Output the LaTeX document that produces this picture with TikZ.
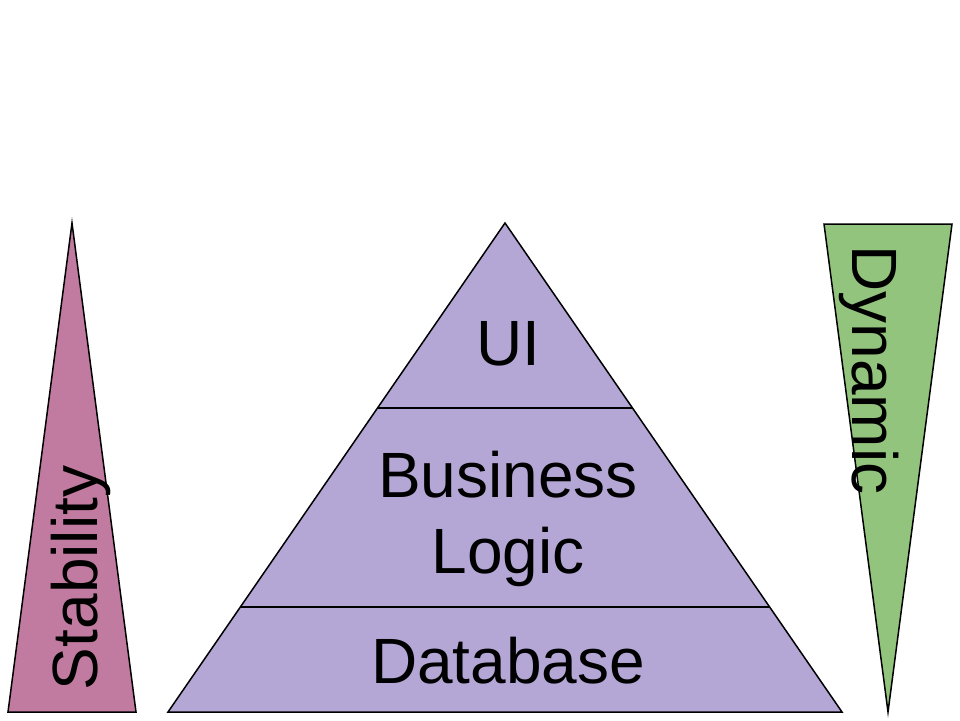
\documentclass[tikz,border=0pt]{standalone}
\usepackage{fontspec}
\setmainfont{Liberation Sans}
\usetikzlibrary{calc}
\definecolor{pinkfill}{HTML}{C27BA0}
\definecolor{purplefill}{HTML}{B4A7D6}
\definecolor{greenfill}{HTML}{93C47D}
\tikzset{
  shapeline/.style={draw=black, line width=1.5pt, line join=miter},
  bigtext/.style={inner sep=0pt, font=\fontsize{64}{76}\selectfont, align=center},
}
\begin{document}
\begin{tikzpicture}[x=1pt,y=-1pt]
\useasboundingbox (0,0) rectangle (960,720);
% coordinates
\coordinate (sA) at (72,223);
\coordinate (sL) at (8,712);
\coordinate (sR) at (136,712);
\coordinate (pA) at (505,223);
\coordinate (pL) at (168,712);
\coordinate (pR) at (842,712);
\coordinate (dL) at (824,224);
\coordinate (dR) at (952,224);
\coordinate (dB) at (888,712);
\coordinate (l1a) at ($(pA)!0.378!(pL)$);
\coordinate (l1b) at ($(pA)!0.378!(pR)$);
\coordinate (l2a) at ($(pA)!0.785!(pL)$);
\coordinate (l2b) at ($(pA)!0.785!(pR)$);
% shapes
\fill[pinkfill] (sA) -- (sR) -- (sL) -- cycle;
\draw[shapeline] (sA) -- (sR) -- (sL) -- cycle;
\fill[purplefill] (pA) -- (pR) -- (pL) -- cycle;
\draw[shapeline] (pA) -- (pR) -- (pL) -- cycle;
\draw[shapeline] (l1a) -- (l1b);
\draw[shapeline] (l2a) -- (l2b);
\fill[greenfill] (dL) -- (dR) -- (dB) -- cycle;
\draw[shapeline] (dL) -- (dR) -- (dB) -- cycle;
% texts
\node[bigtext, anchor=base] (ui) at (508,365) {UI};
\node[bigtext, anchor=base] (bl1) at (508,497) {Business};
\node[bigtext, anchor=base] (bl2) at (508,573) {Logic};
\node[bigtext, anchor=base] (db) at (508,683) {Database};
\node[bigtext, anchor=base, rotate=90] (stab) at (97,578) {Stability};
\node[bigtext, anchor=base, rotate=-90] (dyn) at (852,370) {Dynamic};
\end{tikzpicture}
\end{document}
